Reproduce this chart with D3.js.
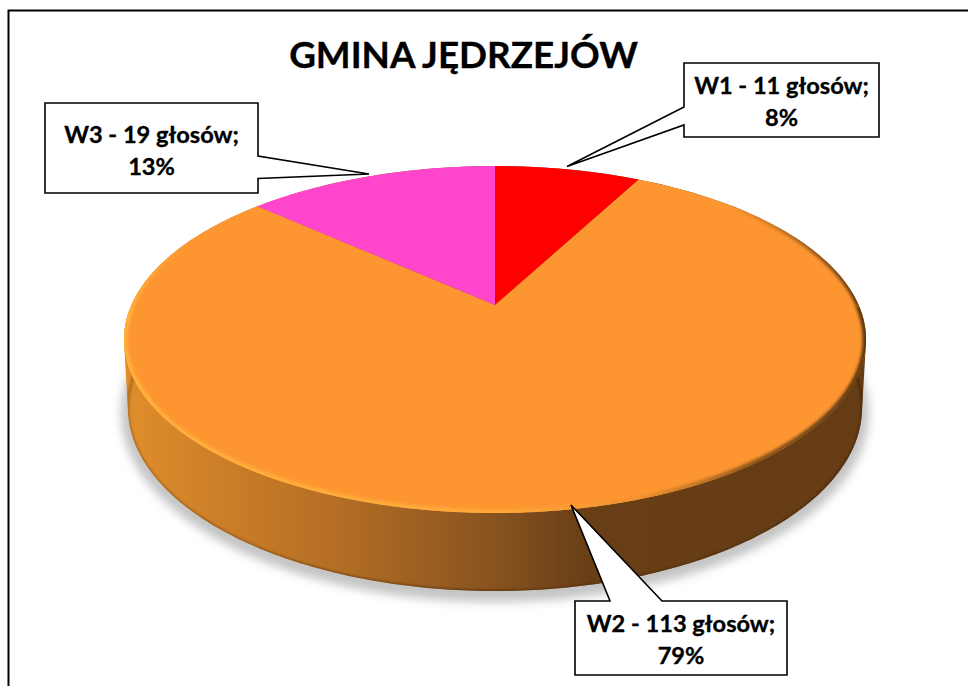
<!DOCTYPE html>
<html>
<head>
<meta charset="utf-8">
<script src="https://cdn.jsdelivr.net/npm/d3@7"></script>
<style>
  html, body { margin: 0; padding: 0; background: #fff; overflow: hidden; }
  text { font-family: Lato, "Open Sans", sans-serif; font-weight: 700; fill: #000; stroke: #000; stroke-width: 0.35px; }
</style>
</head>
<body>
<script>
//-----------------Data----------------
const title = "GMINA JĘDRZEJÓW";
const categories = ["W1", "W2", "W3"];
const votes = [11, 113, 19];
const percents = ["8%", "79%", "13%"];
const colors = ["#ff0000", "#fd9631", "#ff45cc"];

//-----------------Layout----------------
const width = 968;
const height = 686;

// perspective pie: apex, half sizes and tilt, fitted on the reference
const cx = 495;
const cy = 305;
const A = 363.6;
const B = 166.6;
const tilt = 0.199;

const baseEllipse = { cx: 495, cy: 408, rx: 367, ry: 183 };
const shadowEllipse = { cx: 495, cy: 413, rx: 374, ry: 189 };

// callouts, same order as categories
const callouts = [
  { x: 684, y: 63, w: 195, h: 74, pointer: [[684, 107], [567, 166.5], [684, 125]], base: [94, 126] },
  { x: 575, y: 601, w: 212, h: 74, pointer: [[610, 601], [571, 505], [662, 601]], base: [632, 664] },
  { x: 45, y: 103, w: 213, h: 90, pointer: [[258, 156], [369, 174], [258, 178.5]], base: [143, 175] },
];

function project(a) {
  const u = Math.sin(a);
  const v = -Math.cos(a);
  const d = 1 - tilt * v;
  return [cx + (A * u) / d, cy + (B * v) / d];
}

function ellipsePoints(e) {
  return d3.range(0, 360, 1).map((t) => {
    const r = (t * Math.PI) / 180;
    return [e.cx + e.rx * Math.sin(r), e.cy + e.ry * Math.cos(r)];
  });
}

const line = d3.line();
const rimPoints = d3.range(0, 360, 1).map((t) => project((t * Math.PI) / 180));
const rimArc = (from, to) => line(d3.range(from, to + 1, 1).map((t) => project((t * Math.PI) / 180)));

const svg = d3.select("body").append("svg").attr("width", width).attr("height", height).style("display", "block");
const defs = svg.append("defs");

//-----------------Gradients and filters----------------
function hGradient(id, stops) {
  const g = defs
    .append("linearGradient")
    .attr("id", id)
    .attr("gradientUnits", "userSpaceOnUse")
    .attr("x1", 124)
    .attr("x2", 866)
    .attr("y1", 0)
    .attr("y2", 0);
  stops.forEach((s) =>
    g
      .append("stop")
      .attr("offset", (s[0] - 124) / 742)
      .attr("stop-color", s[1])
      .attr("stop-opacity", s[2] === undefined ? 1 : s[2]),
  );
}

hGradient("side", [
  [124, "#e08e2c"],
  [220, "#cc7f28"],
  [340, "#b36d24"],
  [484, "#8a5520"],
  [590, "#683e16"],
  [866, "#663c15"],
]);
hGradient("rim", [
  [124, "#ffb23c"],
  [500, "#ffa93a"],
  [640, "#f09030"],
  [760, "#8a5418"],
  [866, "#5a3510"],
]);
hGradient("rimUpper", [
  [124, "#ffb23c", 1],
  [190, "#ffb23c", 0],
  [730, "#6b4014", 0],
  [866, "#5a3510", 1],
]);
hGradient("edge", [
  [124, "#a9681f"],
  [484, "#5e3610"],
  [866, "#4a2b0d"],
]);

defs.append("filter").attr("id", "blur2").append("feGaussianBlur").attr("stdDeviation", 1.8);
defs.append("filter").attr("id", "blur1").append("feGaussianBlur").attr("stdDeviation", 0.8);
defs
  .append("filter")
  .attr("id", "blurShadow")
  .attr("x", "-10%")
  .attr("y", "-10%")
  .attr("width", "120%")
  .attr("height", "120%")
  .append("feGaussianBlur")
  .attr("stdDeviation", 5);

defs.append("clipPath").attr("id", "topClip").append("path").attr("d", line(rimPoints) + "Z");

const basePoints = ellipsePoints(baseEllipse);
const hull = d3.polygonHull(rimPoints.concat(basePoints));
defs.append("clipPath").attr("id", "bodyClip").append("path").attr("d", line(hull) + "Z");

//-----------------Frame----------------
svg
  .append("rect")
  .attr("x", 8.5)
  .attr("y", 10.5)
  .attr("width", width + 20)
  .attr("height", height + 20)
  .attr("fill", "#fff")
  .attr("stroke", "#000")
  .attr("stroke-width", 2);

//-----------------Pie body----------------
svg
  .append("path")
  .attr("d", line(ellipsePoints(shadowEllipse)) + "Z")
  .attr("fill", "#c4c4c4")
  .attr("filter", "url(#blurShadow)");

svg.append("path").attr("d", line(hull) + "Z").attr("fill", "url(#side)");

svg
  .append("g")
  .attr("clip-path", "url(#bodyClip)")
  .append("path")
  .attr("d", line(basePoints) + "Z")
  .attr("fill", "none")
  .attr("stroke", "url(#edge)")
  .attr("stroke-width", 2.5)
  .attr("filter", "url(#blur1)");

//-----------------Slices----------------
const pie = d3.pie().sort(null);
const slices = pie(votes);

svg
  .append("g")
  .selectAll("path")
  .data(slices)
  .enter()
  .append("path")
  .attr("class", "slice")
  .attr("fill", (d) => colors[d.index])
  .attr("d", (d) => {
    const steps = Math.ceil((d.endAngle - d.startAngle) * 100);
    const arc = d3.range(steps + 1).map((i) => project(d.startAngle + ((d.endAngle - d.startAngle) * i) / steps));
    return line([[cx, cy]].concat(arc)) + "Z";
  });

// bevel along the rim, kept inside the top face
const bevel = svg.append("g").attr("clip-path", "url(#topClip)");

bevel
  .append("path")
  .attr("d", rimArc(90, 270))
  .attr("fill", "none")
  .attr("stroke", "url(#rim)")
  .attr("stroke-width", 7)
  .attr("filter", "url(#blur2)");

bevel
  .append("path")
  .attr("d", rimArc(30, 90))
  .attr("fill", "none")
  .attr("stroke", "url(#rimUpper)")
  .attr("stroke-width", 6)
  .attr("filter", "url(#blur2)");

bevel
  .append("path")
  .attr("d", rimArc(270, 325))
  .attr("fill", "none")
  .attr("stroke", "url(#rimUpper)")
  .attr("stroke-width", 6)
  .attr("filter", "url(#blur2)");

//-----------------Title----------------
svg
  .append("text")
  .attr("x", 463.5)
  .attr("y", 68)
  .attr("text-anchor", "middle")
  .attr("font-size", 36.8)
  .text(title);

//-----------------Callouts----------------
const callout = svg
  .append("g")
  .selectAll("g")
  .data(categories)
  .enter()
  .append("g")
  .attr("class", "callout");

callout
  .append("path")
  .attr("fill", "#fff")
  .attr("stroke", "#000")
  .attr("stroke-width", 1.6)
  .attr("stroke-linejoin", "miter")
  .attr("d", (d, i) => {
    const c = callouts[i];
    const x1 = c.x + c.w;
    const y1 = c.y + c.h;
    const p = c.pointer;
    // walk round the box and step out to the pointer on the side it leaves from
    if (p[0][1] === c.y) {
      return line([[c.x, c.y], p[0], p[1], p[2], [x1, c.y], [x1, y1], [c.x, y1]]) + "Z";
    }
    if (p[0][0] === c.x) {
      return line([[c.x, c.y], [x1, c.y], [x1, y1], [c.x, y1], p[2], p[1], p[0]]) + "Z";
    }
    return line([[c.x, c.y], [x1, c.y], p[0], p[1], p[2], [x1, y1], [c.x, y1]]) + "Z";
  });

callout
  .append("text")
  .attr("x", (d, i) => callouts[i].x + callouts[i].w / 2)
  .attr("y", (d, i) => callouts[i].base[0])
  .attr("text-anchor", "middle")
  .attr("font-size", 23.6)
  .text((d, i) => `${d} - ${votes[i]} głosów;`);

callout
  .append("text")
  .attr("x", (d, i) => callouts[i].x + callouts[i].w / 2)
  .attr("y", (d, i) => callouts[i].base[1])
  .attr("text-anchor", "middle")
  .attr("font-size", 23.6)
  .text((d, i) => percents[i]);
</script>
</body>
</html>
